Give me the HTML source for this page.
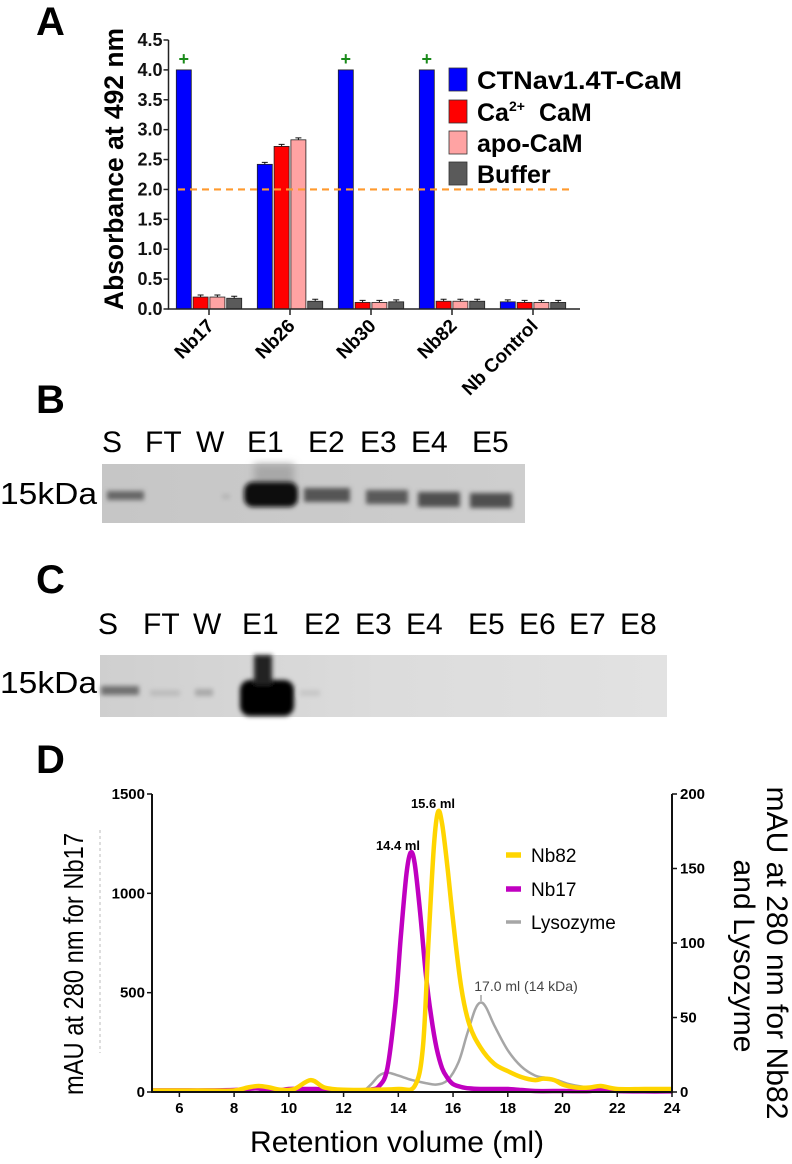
<!DOCTYPE html>
<html><head><meta charset="utf-8">
<style>
html,body{margin:0;padding:0;background:#fff;}
body{width:792px;height:1164px;overflow:hidden;position:relative;font-family:"Liberation Sans",Arial,sans-serif;}
svg{position:absolute;left:0;top:0;}
</style></head>
<body>
<svg id="fig" width="792" height="1164" viewBox="0 0 792 1164" xmlns="http://www.w3.org/2000/svg">
<defs>
<filter id="blur2" x="-20%" y="-50%" width="140%" height="200%"><feGaussianBlur stdDeviation="2.4"/></filter>
<filter id="blur4" x="-30%" y="-50%" width="160%" height="200%"><feGaussianBlur stdDeviation="4"/></filter>
<linearGradient id="gelB" x1="0" x2="1" y1="0" y2="0"><stop offset="0" stop-color="#c6c6c6"/><stop offset="1" stop-color="#cecece"/></linearGradient>
<linearGradient id="gelC" x1="0" x2="1" y1="0" y2="0"><stop offset="0" stop-color="#cfcfcf"/><stop offset="0.5" stop-color="#dcdcdc"/><stop offset="1" stop-color="#e2e2e2"/></linearGradient>
</defs>

<text x="36" y="35" font-size="40" font-weight="bold">A</text>
<text x="36" y="413" font-size="40" font-weight="bold">B</text>
<text x="36" y="593" font-size="40" font-weight="bold">C</text>
<text x="36" y="773" font-size="40" font-weight="bold">D</text>

<g id="panelA"></g>

<g>
  <g font-size="30">
    <text x="102" y="452">S</text>
    <text x="145" y="452">FT</text>
    <text x="196" y="452">W</text>
    <text x="247" y="452">E1</text>
    <text x="308" y="452">E2</text>
    <text x="360" y="452">E3</text>
    <text x="411" y="452">E4</text>
    <text x="472" y="452">E5</text>
  </g>
  <text x="0" y="504" font-size="31" textLength="97" lengthAdjust="spacingAndGlyphs">15kDa</text>
  <rect x="102" y="464" width="423" height="59" fill="url(#gelB)"/>
  <rect x="254" y="464" width="40" height="22" fill="#a8a8a8" filter="url(#blur4)"/>
  <g filter="url(#blur2)">
    <rect x="107" y="491" width="37" height="9" fill="#666"/>
    <rect x="222" y="494" width="8" height="5" fill="#b4b4b4"/>
    <rect x="244" y="482" width="54" height="25" rx="9" fill="#111"/>
    <rect x="304" y="488" width="46" height="14" fill="#555"/>
    <rect x="366" y="490" width="42" height="14" fill="#5a5a5a"/>
    <rect x="418" y="492" width="42" height="15" fill="#505050"/>
    <rect x="470" y="493" width="42" height="15" fill="#505050"/>
  </g>
</g>

<g>
  <g font-size="30">
    <text x="98" y="634">S</text>
    <text x="143" y="634">FT</text>
    <text x="193" y="634">W</text>
    <text x="242" y="634">E1</text>
    <text x="304" y="634">E2</text>
    <text x="355" y="634">E3</text>
    <text x="406" y="634">E4</text>
    <text x="468" y="634">E5</text>
    <text x="519" y="634">E6</text>
    <text x="569" y="634">E7</text>
    <text x="620" y="634">E8</text>
  </g>
  <text x="0" y="693" font-size="31" textLength="97" lengthAdjust="spacingAndGlyphs">15kDa</text>
  <rect x="100" y="655" width="567" height="62" fill="url(#gelC)"/>
  <g filter="url(#blur2)">
    <rect x="101" y="686" width="38" height="9" fill="#707070"/>
    <rect x="150" y="690" width="30" height="6" fill="#bcbcbc"/>
    <rect x="195" y="689" width="18" height="7" fill="#a8a8a8"/>
    <rect x="240" y="680" width="54" height="36" rx="10" fill="#050505"/>
    <rect x="254" y="655" width="18" height="30" fill="#222"/>
    <rect x="300" y="690" width="20" height="6" fill="#c6c6c6"/>
  </g>
</g>

<g id="panelD"></g>
</svg>

<script>
// ---------- Panel A data ----------
const groups = ["Nb17","Nb26","Nb30","Nb82","Nb Control"];
const seriesNames = ["CTNav1.4T-CaM","Ca2+ CaM","apo-CaM","Buffer"];
const ctnavValues = [4.0, 2.42, 4.0, 4.0, 0.12];
const caCamValues = [0.2, 2.72, 0.11, 0.13, 0.11];
const apoCamValues = [0.2, 2.83, 0.11, 0.13, 0.11];
const bufferValues = [0.18, 0.13, 0.12, 0.13, 0.11];
const yTicksA = [0.0,0.5,1.0,1.5,2.0,2.5,3.0,3.5,4.0,4.5];
const thresholdA = 2.0;
const saturatedFlags = [true,false,true,true,false];

// ---------- Panel D data ----------
const xTicksD = [6,8,10,12,14,16,18,20,22,24];
const leftTicksD = [0,500,1000,1500];
const rightTicksD = [0,50,100,150,200];
const nb17X = [5,6,7,8,8.5,8.8,9.2,9.6,10,10.5,11,11.5,12,12.5,13,13.3,13.6,13.9,14.1,14.3,14.45,14.6,14.8,15,15.2,15.4,15.6,15.8,16,16.3,16.6,17,17.5,18,18.5,19,20,21,21.4,22,23,24];
const nb17Y = [8,8,8,10,15,18,12,8,15,15,15,10,8,8,12,30,120,450,800,1100,1205,1150,900,600,380,220,120,70,40,25,18,15,15,15,10,5,5,5,15,5,3,3];
const nb82X = [5,7,8,8.5,8.9,9.3,9.7,10.2,10.8,11.3,12,13,14,14.6,14.9,15.1,15.3,15.45,15.6,15.8,16,16.3,16.6,17,17.5,18,18.5,19,19.3,19.7,20,20.5,21,21.4,22,23,24];
const nb82Y = [1,1,1,3,4,3,1.5,2,8,3,1.5,1.5,2,4,30,100,165,188,180,150,115,70,45,30,19,14,10,8,9,8,5,3,3,4,2,2,2];
const lysoX = [12.7,13,13.3,13.6,14,14.5,15,15.4,15.8,16.2,16.5,16.8,17,17.2,17.5,18,18.5,19,19.4,19.8,20.3,21,22,23,24];
const lysoY = [0,5,11,13,11,8,6,5,8,20,38,55,60,57,45,28,17,11,9.5,8,5,3,2,1.5,1.5];

const NS = "http://www.w3.org/2000/svg";
function mk(parent, tag, attrs, text){
  const e = document.createElementNS(NS, tag);
  for (const k in attrs) e.setAttribute(k, attrs[k]);
  if (text !== undefined) e.textContent = text;
  parent.appendChild(e);
  return e;
}

// ===== Panel A =====
(function(){
  const g = document.getElementById("panelA");
  const x0 = 168.5, bandEnd = 573.5, axisEnd = 580, yTop = 40, yBot = 309;
  const yMax = 4.5;
  const ys = v => yBot - (v / yMax) * (yBot - yTop);
  const gw = (bandEnd - x0) / groups.length;
  const gx = i => x0 + gw * (i + 0.5);
  const barW = 15, step = 16.8;
  const colors = ["#0000ff","#ff0000","#ffa3a3","#5a5a5a"];
  const all = [ctnavValues, caCamValues, apoCamValues, bufferValues];

  all.forEach((vals, s) => {
    vals.forEach((v, i) => {
      const cx = gx(i) + (s - 1.5) * step;
      const r = mk(g, "rect", {x: cx - barW/2, y: ys(v), width: barW, height: yBot - ys(v), fill: colors[s], stroke: "#222", "stroke-width": 0.8});
      
      
      if (v < 3.9) {
        const eb = mk(g, "path", {d: `M${cx-3} ${ys(v)-2}H${cx+3}M${cx} ${ys(v)-2}V${ys(v)}`, stroke: "#111", "stroke-width": 1, fill: "none"});
        
        
      }
    });
  });
  saturatedFlags.forEach((f, i) => {
    if (!f) return;
    const cx = gx(i) - 1.5 * step;
    const p = mk(g, "text", {x: cx, y: ys(4.0) - 5, "text-anchor": "middle", "font-size": 18, "font-weight": "bold", fill: "#1a8a1a"}, "+");
    
    
  });
  const th = mk(g, "line", {x1: 178, x2: 572, y1: ys(thresholdA), y2: ys(thresholdA), stroke: "#ff9a2e", "stroke-width": 2.2, "stroke-dasharray": "7 5"});
  
  
  const ax = mk(g, "path", {d: `M${x0} ${yTop}V${yBot}H${axisEnd}`, stroke: "#222", "stroke-width": 1.5, fill: "none"});
  
  
  yTicksA.forEach(t => {
    const tk = mk(g, "line", {x1: x0 - 5, x2: x0, y1: ys(t), y2: ys(t), stroke: "#222", "stroke-width": 1.5});
    
    
    const lb = mk(g, "text", {x: x0 - 6, y: ys(t) + 6, "text-anchor": "end", "font-size": 18, "font-weight": "bold", fill: "#111"}, t.toFixed(1));
    
    
  });
  groups.forEach((name, i) => {
    const tk = mk(g, "line", {x1: gx(i), x2: gx(i), y1: yBot, y2: yBot + 6, stroke: "#222", "stroke-width": 1.5});
    
    
    const lx = gx(i) + 6, ly = yBot + 18;
    const lb = mk(g, "text", {x: lx, y: ly, "text-anchor": "end", "font-size": 19, "font-weight": "bold", transform: `rotate(-45 ${lx} ${ly})`}, name);
    
    
  });
  const yt = mk(g, "text", {x: 0, y: 0, "text-anchor": "middle", "font-size": 27, "font-weight": "bold", textLength: 282, lengthAdjust: "spacingAndGlyphs", transform: "translate(123 169) rotate(-90)"}, "Absorbance at 492 nm");
  
  
  const rowsY = [68, 100, 131, 162];
  seriesNames.forEach((n, s) => {
    const bx = mk(g, "rect", {x: 449, y: rowsY[s], width: 18, height: 23, fill: colors[s], stroke: "#333", "stroke-width": 0.8});
    
    
    let t;
    if (s === 1) {
      t = mk(g, "text", {x: 477, y: rowsY[s] + 21, "font-size": 25, "font-weight": "bold"});
      mk(t, "tspan", {}, "Ca");
      mk(t, "tspan", {dy: -10, "font-size": 14}, "2+");
      mk(t, "tspan", {dy: 10, dx: 14}, "CaM");
    } else {
      const attrs = {x: 477, y: rowsY[s] + 21, "font-size": 25, "font-weight": "bold"};
      if (s === 0) { attrs.textLength = 205; attrs.lengthAdjust = "spacingAndGlyphs"; }
      t = mk(g, "text", attrs, n);
    }
    
    
  });
})();

// ===== Panel D =====
(function(){
  const g = document.getElementById("panelD");
  const x0 = 152, x1 = 672, yTop = 794, yBot = 1092;
  const xs = v => x0 + (v - 5) / 19 * (x1 - x0);
  const yl = v => yBot - v / 1500 * (yBot - yTop);
  const yr = v => yBot - v / 200 * (yBot - yTop);

  const dl = mk(g, "line", {x1: 100, x2: 100, y1: 830, y2: 1053, stroke: "#bbb", "stroke-width": 1, "stroke-dasharray": "3 3"});
  
  

  function smoothPath(X, Y, sy){
    const pts = X.map((x, i) => [xs(x), sy(Y[i])]);
    let d = `M${pts[0][0].toFixed(1)} ${pts[0][1].toFixed(1)}`;
    for (let i = 0; i < pts.length - 1; i++){
      const p0 = pts[Math.max(0,i-1)], p1 = pts[i], p2 = pts[i+1], p3 = pts[Math.min(pts.length-1,i+2)];
      const c1 = [p1[0] + (p2[0]-p0[0])/6, p1[1] + (p2[1]-p0[1])/6];
      const c2 = [p2[0] - (p3[0]-p1[0])/6, p2[1] - (p3[1]-p1[1])/6];
      d += `C${c1[0].toFixed(1)} ${c1[1].toFixed(1)} ${c2[0].toFixed(1)} ${c2[1].toFixed(1)} ${p2[0].toFixed(1)} ${p2[1].toFixed(1)}`;
    }
    return d;
  }
  const lyso = mk(g, "path", {d: smoothPath(lysoX, lysoY, yr), fill: "none", stroke: "#a6a6a6", "stroke-width": 2.5});
  
  
  const nb17 = mk(g, "path", {d: smoothPath(nb17X, nb17Y, yl), fill: "none", stroke: "#c000c0", "stroke-width": 4.5, "stroke-linejoin": "round"});
  
  
  const nb82 = mk(g, "path", {d: smoothPath(nb82X, nb82Y, yr), fill: "none", stroke: "#ffd500", "stroke-width": 4.5, "stroke-linejoin": "round"});
  
  

  const ax = mk(g, "path", {d: `M${x0} ${yTop}V${yBot}H${x1}V${yTop}`, stroke: "#111", "stroke-width": 2, fill: "none"});
  
  
  xTicksD.forEach(t => {
    const tk = mk(g, "line", {x1: xs(t), x2: xs(t), y1: yBot, y2: yBot + 5, stroke: "#111", "stroke-width": 1.5});
    
    
    const lb = mk(g, "text", {x: xs(t), y: yBot + 21, "text-anchor": "middle", "font-size": 15, "font-weight": "bold"}, String(t));
    
    
  });
  leftTicksD.forEach(t => {
    const tk = mk(g, "line", {x1: x0 - 5, x2: x0, y1: yl(t), y2: yl(t), stroke: "#111", "stroke-width": 1.5});
    
    
    const lb = mk(g, "text", {x: x0 - 7, y: yl(t) + 5, "text-anchor": "end", "font-size": 15, "font-weight": "bold"}, String(t));
    
    
  });
  rightTicksD.forEach(t => {
    const tk = mk(g, "line", {x1: x1, x2: x1 + 5, y1: yr(t), y2: yr(t), stroke: "#111", "stroke-width": 1.5});
    
    
    const lb = mk(g, "text", {x: x1 + 8, y: yr(t) + 5, "font-size": 15, "font-weight": "bold"}, String(t));
    
    
  });
  const lt = mk(g, "text", {x: 0, y: 0, "text-anchor": "middle", "font-size": 28, textLength: 262, lengthAdjust: "spacingAndGlyphs", transform: "translate(83 964) rotate(-90)"}, "mAU at 280 nm for Nb17");
  
  
  const rt1 = mk(g, "text", {x: 0, y: 0, "text-anchor": "middle", "font-size": 30, textLength: 333, lengthAdjust: "spacingAndGlyphs", transform: "translate(767 953) rotate(90)"}, "mAU at 280 nm for Nb82");
  
  
  const rt2 = mk(g, "text", {x: 0, y: 0, "text-anchor": "middle", "font-size": 30, textLength: 193, lengthAdjust: "spacingAndGlyphs", transform: "translate(734 956) rotate(90)"}, "and Lysozyme");
  
  
  const xt = mk(g, "text", {x: 397, y: 1152, "text-anchor": "middle", "font-size": 30, textLength: 294, lengthAdjust: "spacingAndGlyphs"}, "Retention volume (ml)");
  
  

  const a1 = mk(g, "text", {x: 433, y: 808, "text-anchor": "middle", "font-size": 13, "font-weight": "bold"}, "15.6 ml");
  
  
  const a2 = mk(g, "text", {x: 398, y: 850, "text-anchor": "middle", "font-size": 13, "font-weight": "bold"}, "14.4 ml");
  
  
  const a3 = mk(g, "text", {x: 526, y: 991, "text-anchor": "middle", "font-size": 14, fill: "#444"}, "17.0 ml (14 kDa)");
  
  
  const a3t = mk(g, "line", {x1: 481, x2: 481, y1: 995, y2: 1001, stroke: "#777", "stroke-width": 1});
  
  

  const leg = [["Nb82","#ffd500",4.5,855],["Nb17","#c000c0",4.5,889],["Lysozyme","#a6a6a6",2.5,922]];
  leg.forEach(l => {
    const ln = mk(g, "line", {x1: 506, x2: 521, y1: l[3], y2: l[3], stroke: l[1], "stroke-width": l[2] + 1});
    
    
    const tx = mk(g, "text", {x: 531, y: l[3] + 7, "font-size": 19}, l[0]);
    
    
  });
})();
</script>
</body></html>
